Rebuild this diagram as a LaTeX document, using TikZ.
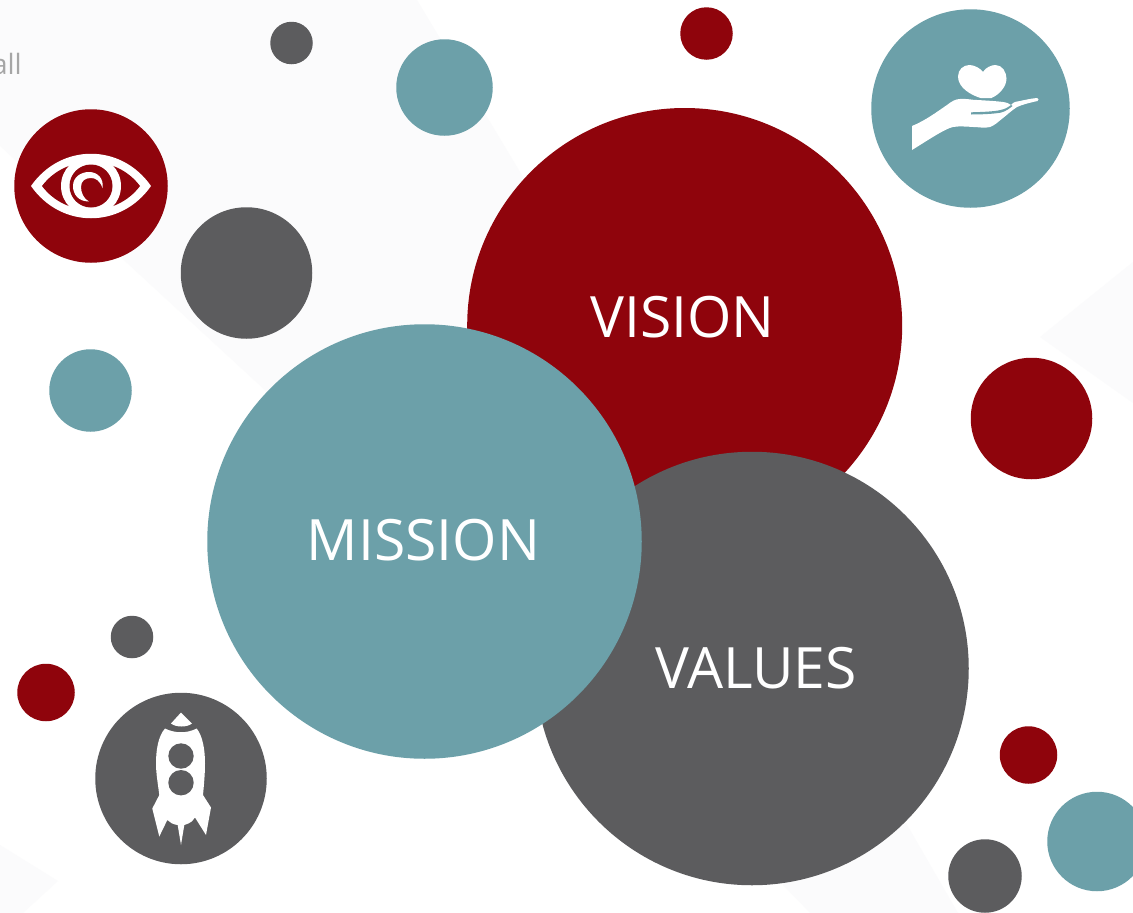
\documentclass[tikz,border=0pt]{standalone}
\usepackage{fontspec}
\setmainfont{Open Sans}
\definecolor{crim}{HTML}{8F040C}
\definecolor{teal}{HTML}{6CA0A9}
\definecolor{slate}{HTML}{5C5C5E}
\definecolor{faint}{HTML}{FBFBFC}
\definecolor{smalltxt}{HTML}{A6A6A6}
\tikzset{
  disc/.style={circle,inner sep=0pt,outer sep=0pt,minimum size=#1},
  cr/.style={disc=#1,fill=crim},
  te/.style={disc=#1,fill=teal},
  sl/.style={disc=#1,fill=slate},
  big/.style={text=white,inner sep=0pt,font=\fontsize{57}{57}\selectfont}
}
\begin{document}
\begin{tikzpicture}[x=1pt,y=-1pt]
\useasboundingbox (0,0) rectangle (1133,913);
\fill[white] (0,0) rectangle (1133,913);
% background
\fill[faint] (0,0) -- (417,0) -- (523,177) -- (470,330) -- (267,392) -- (0,146) -- cycle;
\fill[faint] (1133,262) -- (1040,337) -- (1133,403) -- cycle;
\fill[faint] (0,845) -- (58,881) -- (23,913) -- (0,913) -- cycle;
\fill[faint] (906,823) -- (958,913) -- (810,913) -- (783,885) -- (783,860) -- cycle;
\node[text=smalltxt,inner sep=0pt,font=\fontsize{28}{28}\selectfont,anchor=base east] (smalltxt) at (22,74) {all};
% small discs
\node[sl=42.5] (a1) at (291.5,43) {};
\node[te=96.5] (a2) at (444.5,87.5) {};
\node[cr=52.5] (a3) at (706.5,33.5) {};
\node[sl=131.5] (a4) at (246.5,273) {};
\node[te=82.5] (a5) at (90.5,390.5) {};
\node[cr=121.5] (a6) at (1031.5,418.5) {};
\node[sl=42.5] (a7) at (132,637) {};
\node[cr=57.5] (a8) at (46,692.5) {};
\node[cr=57.5] (a9) at (1028.5,755) {};
\node[te=99.5] (a10) at (1097,841.5) {};
\node[sl=73.5] (a11) at (985,876) {};
% big
\node[cr=435] (vision) at (684.7,325.5) {};
\node[sl=433.5] (values) at (752,668.5) {};
\node[te=434.5] (mission) at (424.5,541.5) {};
\node[big] (visiontext) at (682.5,317) {VISION};
\node[big] (valuestext) at (756,668) {VALUES};
\node[big] (missiontext) at (423.5,540) {MISSION};
% icon discs
\node[cr=153.5] (eye) at (91,186) {};
\node[te=198.5] (hand) at (970.5,108.5) {};
\node[sl=171.5] (rocket) at (181,778.5) {};
% eye
\begin{scope}[shift={(eye.center)}]
\fill[white] (-60,0) .. controls (-30,-43) and (30,-43) .. (60,0) .. controls (30,43) and (-30,43) .. (-60,0) -- cycle;
\fill[crim] (-49,0) .. controls (-25,-32) and (25,-32) .. (49,0) .. controls (25,32) and (-25,32) .. (-49,0) -- cycle;
\fill[white] (0,0) circle (30);
\fill[crim] (0,0) circle (21.5);
\fill[white] (-2,15.5) .. controls (-13,15.5) and (-18,8) .. (-18,0) .. controls (-18,-9) and (-10,-14) .. (-2,-14) .. controls (7,-14) and (13,-7) .. (11.5,2)
  .. controls (9,-5) and (5,-8) .. (0,-8) .. controls (-6,-8) and (-10,-5) .. (-10,1) .. controls (-10,7) and (-7,13) .. (-2,15.5) -- cycle;
\end{scope}
% hand
\begin{scope}[shift={(hand.center)}]
\fill[white] (12.5,-36.5) .. controls (15,-41) and (21,-43.5) .. (25,-43.5) .. controls (32,-43.5) and (36,-36) .. (36,-30) .. controls (36,-22) and (29,-14) .. (21,-10.5) -- (10,-10.5) .. controls (2,-13) and (-12.5,-20) .. (-12.5,-32) .. controls (-12.5,-39) and (-7,-43.5) .. (-1,-43.5) .. controls (4,-43.5) and (10,-40) .. (12.5,-36.5) -- cycle;
\fill[white] (-58.5,17.5) .. controls (-45,12) and (-33,3) .. (-23.5,-3.5) .. controls (-19,-7) and (-15,-9.5) .. (-10.5,-9.5) .. controls (-3,-10) and (1,-8.5) .. (6.5,-8.5) .. controls (15,-8) and (25,-7.5) .. (32.5,-6.5) .. controls (36,-6) and (39,-5) .. (40.5,-3.5) .. controls (42,-5) and (43,-6) .. (44.5,-6.5) .. controls (52,-8) and (60,-10) .. (66.5,-10.5) .. controls (68.5,-10.5) and (68.5,-8) .. (67,-7.5) .. controls (60,-6) and (52,-4) .. (46.5,-1.5) .. controls (41,2) and (37,6) .. (32.5,9.5) .. controls (28,13) and (24,17) .. (19.5,18.5) .. controls (14,20) and (8,18.5) .. (3,18.5) .. controls (-5,18) and (-12,17.5) .. (-17.5,18.5) .. controls (-25,20) and (-40,30) .. (-58.5,41.5) -- cycle;
\fill[teal] (0.5,3.8) .. controls (12,3.5) and (24,3) .. (30,1.5) .. controls (35,0.5) and (38,-1.5) .. (40.5,-3.5) -- (42,-2.5) .. controls (39,0) and (35,3) .. (30,4.2) .. controls (22,5.5) and (10,6) .. (0.5,6) -- cycle;
\end{scope}
% rocket
\begin{scope}[shift={(rocket.center)}]
\fill[white] (0,-66) -- (11,-55) .. controls (6,-51) and (-5,-51) .. (-10,-55) -- cycle;
\fill[white] (-16,-50) .. controls (-6,-45) and (6,-45) .. (15.7,-50) .. controls (22,-42) and (24,-28) .. (24,-15) .. controls (24,-5) and (23,6) .. (22,16.5) -- (30,29) -- (25,56.5) -- (14,39) .. controls (12,42) and (11,44) .. (3.3,46.5) -- (0,66.5) -- (-3.3,46.5) .. controls (-8,46) and (-11,44) .. (-13.7,41.5) -- (-21.7,58) -- (-28.7,30) -- (-21.7,16.5) .. controls (-23,6) and (-25,-5) .. (-25,-15) .. controls (-25,-28) and (-23,-42) .. (-16,-50) -- cycle;
\fill[slate] (0,-22.5) circle (12.7);
\fill[slate] (0,4.2) circle (12.7);
\end{scope}
\end{tikzpicture}
\end{document}
